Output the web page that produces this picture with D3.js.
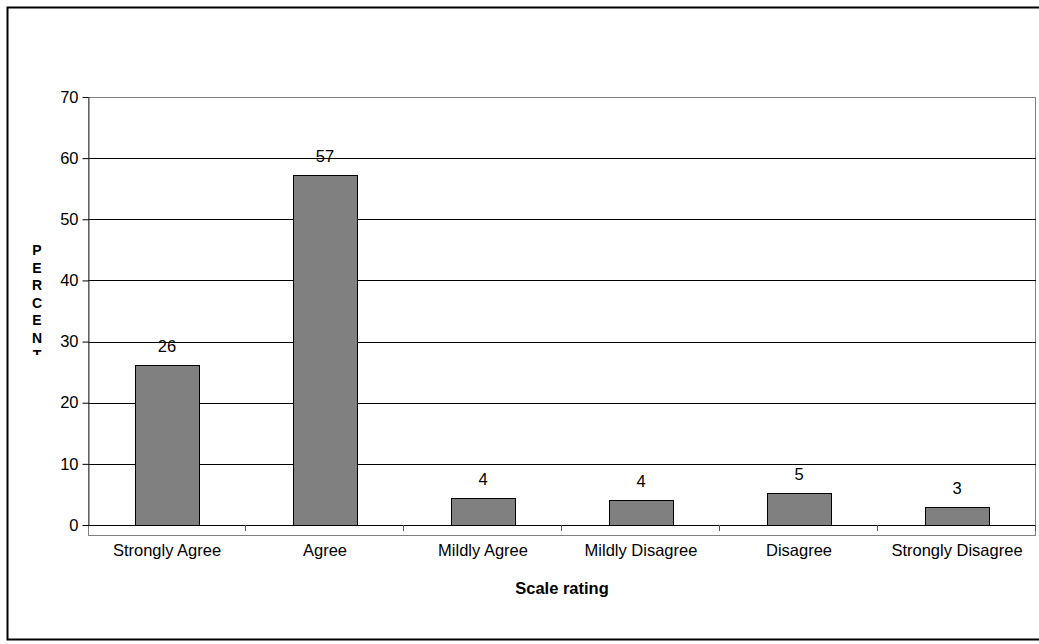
<!DOCTYPE html>
<html>
<head>
<meta charset="utf-8">
<script src="https://cdn.jsdelivr.net/npm/d3@7"></script>
<style>
  html, body { margin: 0; padding: 0; background: #fff; overflow: hidden; }
  svg { display: block; font-family: "Liberation Sans", Arial, sans-serif; }
</style>
</head>
<body>
<svg id="chart" width="1039" height="644"></svg>
<script>
const categories = ["Strongly Agree", "Agree", "Mildly Agree", "Mildly Disagree", "Disagree", "Strongly Disagree"]
const values = [26.1, 57.3, 4.4, 4.1, 5.3, 2.9]
const labels = ["26", "57", "4", "4", "5", "3"]
const yTicks = [0, 10, 20, 30, 40, 50, 60, 70]
const yTitle = "PERCENT"
const xTitle = "Scale rating"

const svg = d3.select("#chart")
const W = 1039, H = 644
const m = {left: 88, right: 3, top: 97, bottom: 119}
const iw = W - m.left - m.right
const ih = H - m.top - m.bottom
const floor = 10
const fs = 16.5

// outer frame (right edge runs off the picture, as in the source)
svg.append("rect")
  .attr("x", 7.5).attr("y", 7.5)
  .attr("width", W + 10).attr("height", 632)
  .attr("fill", "none").attr("stroke", "#000").attr("stroke-width", 2)

const x = d3.scaleBand().domain(categories).range([0, iw]).paddingInner(0.595).paddingOuter(0.2975)
const xc = d3.scaleBand().domain(categories).range([0, iw])
const y = d3.scaleLinear().domain([0, 70]).range([ih, 0])

const g = svg.append("g").attr("transform", `translate(${m.left},${m.top})`)

// plot walls / floor
g.append("rect")
  .attr("x", 0.5).attr("y", 0.5)
  .attr("width", iw - 1).attr("height", ih + floor)
  .attr("fill", "none").attr("stroke", "#808080").attr("stroke-width", 1)

// gridlines
g.append("g")
  .selectAll("line")
  .data(yTicks)
  .join("line")
  .attr("x1", 0).attr("x2", iw)
  .attr("y1", (d) => Math.round(y(d)) + 0.5).attr("y2", (d) => Math.round(y(d)) + 0.5)
  .attr("stroke", (d) => (d === 70 ? "#808080" : "#000"))

// y axis
g.append("g")
  .attr("transform", "translate(0.5,0)")
  .call(d3.axisLeft(y).tickValues(yTicks).tickSize(6).tickPadding(4).tickSizeOuter(0))
  .call((gg) => gg.select(".domain").attr("stroke", "#444"))
  .call((gg) => gg.selectAll(".tick line").attr("stroke", "#000"))
  .call((gg) => gg.selectAll("text").attr("font-size", fs).attr("fill", "#000").attr("font-family", "Liberation Sans, Arial, sans-serif"))

// category ticks
g.append("g")
  .selectAll("line")
  .data(categories)
  .join("line")
  .attr("x1", (d) => Math.round(xc(d) + xc.step()) - 0.5)
  .attr("x2", (d) => Math.round(xc(d) + xc.step()) - 0.5)
  .attr("y1", ih).attr("y2", ih + 6)
  .attr("stroke", "#555")

// bars
g.append("g")
  .selectAll("rect")
  .data(values)
  .join("rect")
  .attr("x", (d, i) => Math.round(x(categories[i])) + 0.5)
  .attr("y", (d) => Math.round(y(d)) + 0.5)
  .attr("width", x.bandwidth())
  .attr("height", (d) => ih - Math.round(y(d)))
  .attr("fill", "#808080")
  .attr("stroke", "#000")
  .attr("stroke-width", 1)

// value labels
g.append("g")
  .selectAll("text")
  .data(values)
  .join("text")
  .attr("x", (d, i) => xc(categories[i]) + xc.bandwidth() / 2)
  .attr("y", (d) => y(d) - 13)
  .attr("text-anchor", "middle")
  .attr("font-size", fs)
  .text((d, i) => labels[i])

// category labels
g.append("g")
  .selectAll("text")
  .data(categories)
  .join("text")
  .attr("x", (d) => xc(d) + xc.bandwidth() / 2)
  .attr("y", ih + 31)
  .attr("text-anchor", "middle")
  .attr("font-size", fs)
  .text((d) => d)

// x title
g.append("text")
  .attr("x", iw / 2)
  .attr("y", ih + 69)
  .attr("text-anchor", "middle")
  .attr("font-size", fs)
  .attr("font-weight", "bold")
  .text(xTitle)

// y title, stacked letters, last one clipped as in the source
svg.append("clipPath").attr("id", "ytclip")
  .append("rect").attr("x", 0).attr("y", 0).attr("width", 80).attr("height", 355)
svg.append("g")
  .attr("clip-path", "url(#ytclip)")
  .selectAll("text")
  .data(yTitle.split(""))
  .join("text")
  .attr("x", 37)
  .attr("y", (d, i) => 255 + i * 17.5)
  .attr("text-anchor", "middle")
  .attr("font-size", 14)
  .attr("font-weight", "bold")
  .text((d) => d)
</script>
</body>
</html>
